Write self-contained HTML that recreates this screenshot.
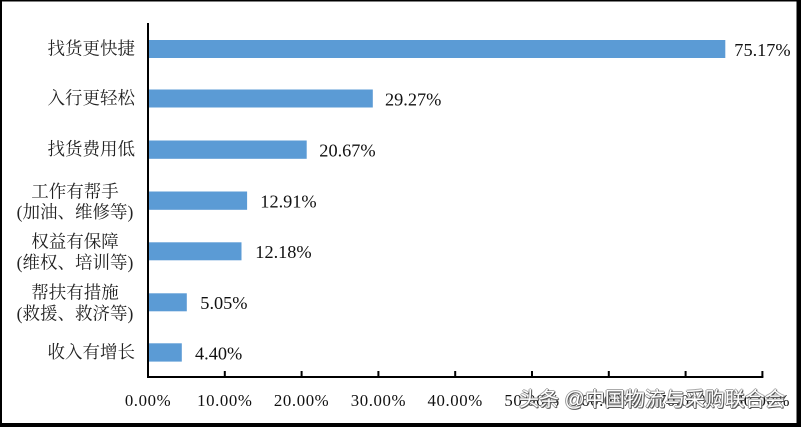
<!DOCTYPE html>
<html>
<head>
<meta charset="utf-8">
<style>
html,body{margin:0;padding:0;background:#fff;}
body{width:801px;height:427px;position:relative;overflow:hidden;}
svg{position:absolute;left:0;top:0;}
.cat{font-family:"Liberation Serif","Noto Serif CJK SC","Noto Serif CJK",serif;font-size:17.5px;fill:#222;}
.val{font-family:"Liberation Serif",serif;font-size:18.3px;fill:#111;}
.ax{font-family:"Liberation Serif",serif;font-size:16.8px;fill:#111;letter-spacing:0.6px;}
.wm{position:absolute;left:519px;top:389px;font-family:"Liberation Sans","Noto Sans CJK SC",sans-serif;font-size:20px;line-height:22px;color:#fff;white-space:nowrap;
text-shadow:1px 1px 0 #555,-1px 0 0 #999,0 -1px 0 #aaa,1px 0 0 #777,0 1px 0 #666;}
</style>
</head>
<body>
<svg width="801" height="427" viewBox="0 0 801 427" xmlns="http://www.w3.org/2000/svg">
  <rect x="0" y="0" width="801" height="427" fill="#000"/>
  <rect x="2" y="1.5" width="794.5" height="421.5" fill="#fff"/>

  <!-- bars -->
  <g fill="#5b9bd5">
    <rect x="148" y="40" width="577.3" height="18"/>
    <rect x="148" y="89.5" width="224.8" height="18"/>
    <rect x="148" y="140.5" width="158.7" height="18.3"/>
    <rect x="148" y="191.5" width="99.1" height="18.3"/>
    <rect x="148" y="242.3" width="93.5" height="18"/>
    <rect x="148" y="293.3" width="38.8" height="18"/>
    <rect x="148" y="343.3" width="33.8" height="18.3"/>
  </g>

  <!-- axes -->
  <g stroke="#000" stroke-width="2">
    <line x1="148" y1="23" x2="148" y2="378"/>
    <line x1="147" y1="377" x2="763.4" y2="377"/>
    <line x1="224.8" y1="371" x2="224.8" y2="377"/>
    <line x1="301.6" y1="371" x2="301.6" y2="377"/>
    <line x1="378.4" y1="371" x2="378.4" y2="377"/>
    <line x1="455.2" y1="371" x2="455.2" y2="377"/>
    <line x1="532" y1="371" x2="532" y2="377"/>
    <line x1="608.8" y1="371" x2="608.8" y2="377"/>
    <line x1="685.6" y1="371" x2="685.6" y2="377"/>
    <line x1="762.4" y1="371" x2="762.4" y2="377"/>
  </g>

  <!-- category labels -->
  <g class="cat">
    <text x="135" y="54.5" text-anchor="end">找货更快捷</text>
    <text x="135" y="104" text-anchor="end">入行更轻松</text>
    <text x="135" y="155" text-anchor="end">找货费用低</text>
    <text x="75" y="197.3" text-anchor="middle">工作有帮手</text>
    <text x="75" y="218" text-anchor="middle">(加油、维修等)</text>
    <text x="75" y="247.5" text-anchor="middle">权益有保障</text>
    <text x="75" y="268.5" text-anchor="middle">(维权、培训等)</text>
    <text x="75" y="298.3" text-anchor="middle">帮扶有措施</text>
    <text x="75" y="319.3" text-anchor="middle">(救援、救济等)</text>
    <text x="135" y="358" text-anchor="end">收入有增长</text>
  </g>

  <!-- value labels -->
  <g class="val">
    <text x="734.3" y="56">75.17%</text>
    <text x="385" y="105.5">29.27%</text>
    <text x="319.3" y="156.7">20.67%</text>
    <text x="260.3" y="207.5">12.91%</text>
    <text x="255.3" y="258">12.18%</text>
    <text x="200.3" y="309">5.05%</text>
    <text x="195" y="359.5">4.40%</text>
  </g>

  <!-- x-axis labels -->
  <g class="ax" text-anchor="middle">
    <text x="148" y="406">0.00%</text>
    <text x="224.8" y="406">10.00%</text>
    <text x="301.6" y="406">20.00%</text>
    <text x="378.4" y="406">30.00%</text>
    <text x="455.2" y="406">40.00%</text>
    <text x="532" y="406">50.00%</text>
    <text x="608.8" y="406">60.00%</text>
    <text x="685.6" y="406">70.00%</text>
    <text x="762.4" y="406">80.00%</text>
  </g>
</svg>
<div class="wm">头条 @中国物流与采购联合会</div>
</body>
</html>
